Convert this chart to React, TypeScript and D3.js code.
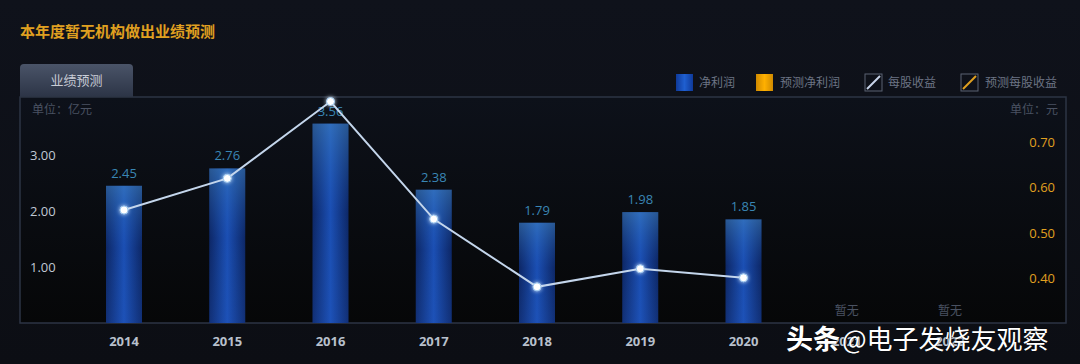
import React from "react";
import * as d3 from "d3";

const W = 1080;
const H = 364;

const years = ["2014", "2015", "2016", "2017", "2018", "2019", "2020", "2021", "2022"];
const profit = [2.45, 2.76, 3.56, 2.38, 1.79, 1.98, 1.85, null, null];
const eps = [0.55, 0.62, 0.79, 0.53, 0.38, 0.42, 0.4, null, null];
const leftTicks = [1, 2, 3];
const rightTicks = [0.4, 0.5, 0.6, 0.7];

const FONT = "'Noto Sans CJK SC', 'Noto Sans', sans-serif";
const NUM = "'Open Sans', sans-serif";
const box = { left: 20, right: 1066, top: 97, bottom: 323 };

const App = () => {
  const x = d3.scalePoint<string>().domain(years).range([124, 950]);
  const yL = d3.scaleLinear().domain([0, 226 / 56]).range([box.bottom, box.top]);
  const yR = d3.scaleLinear().domain([0.3, 0.8]).range([box.bottom, box.top]);

  const line = d3
    .line<number | null>()
    .defined((d) => d != null)
    .x((_, i) => x(years[i]) as number)
    .y((d) => yR(d as number));

  const barW = 36;

  return (
    <svg width={W} height={H} style={{ position: "absolute", left: 0, top: 0, fontFamily: FONT }}>
      <defs>
        <linearGradient id="bg" x1="0" y1="0" x2="0" y2="1">
          <stop offset="0" stopColor="#0f121b" />
          <stop offset="1" stopColor="#0c0e14" />
        </linearGradient>
        <linearGradient id="plotBg" x1="0" y1="0" x2="0" y2="1">
          <stop offset="0" stopColor="#0d111a" />
          <stop offset="1" stopColor="#060708" />
        </linearGradient>
        <linearGradient id="barH" x1="0" y1="0" x2="1" y2="0">
          <stop offset="0" stopColor="#0d2766" />
          <stop offset="0.5" stopColor="#1b4fb4" />
          <stop offset="1" stopColor="#0d2766" />
        </linearGradient>
        <linearGradient id="barV" x1="0" y1="0" x2="0" y2="1">
          <stop offset="0" stopColor="#4a92c8" stopOpacity="0.45" />
          <stop offset="0.45" stopColor="#2a6cbf" stopOpacity="0" />
          <stop offset="1" stopColor="#2a60d0" stopOpacity="0.15" />
        </linearGradient>
        <linearGradient id="tab" x1="0" y1="0" x2="0" y2="1">
          <stop offset="0" stopColor="#4a5468" />
          <stop offset="1" stopColor="#2c3446" />
        </linearGradient>
        <linearGradient id="legBlue" x1="0" y1="0" x2="1" y2="0">
          <stop offset="0" stopColor="#0f3a9a" />
          <stop offset="0.5" stopColor="#1f5fd0" />
          <stop offset="1" stopColor="#0f3a9a" />
        </linearGradient>
        <linearGradient id="legOrange" x1="0" y1="0" x2="1" y2="0">
          <stop offset="0" stopColor="#d08a00" />
          <stop offset="0.5" stopColor="#ffb000" />
          <stop offset="1" stopColor="#d08a00" />
        </linearGradient>
        <filter id="glow" x="-100%" y="-100%" width="300%" height="300%">
          <feGaussianBlur stdDeviation="2" result="b" />
          <feMerge>
            <feMergeNode in="b" />
            <feMergeNode in="SourceGraphic" />
          </feMerge>
        </filter>
      </defs>

      <rect width={W} height={H} fill="url(#bg)" />

      {/* title */}
      <text x={20} y={37} fill="#e0a020" fontSize={15} fontWeight="bold">
        本年度暂无机构做出业绩预测
      </text>

      {/* tab */}
      <path d="M20,97 V68 Q20,64 24,64 H129 Q133,64 133,68 V97 Z" fill="url(#tab)" />
      <text x={76.5} y={85} textAnchor="middle" fill="#c8ccd6" fontSize={13}>
        业绩预测
      </text>

      {/* plot area */}
      <rect
        x={box.left}
        y={box.top}
        width={box.right - box.left}
        height={box.bottom - box.top}
        fill="url(#plotBg)"
        stroke="#2c3444"
        strokeWidth={1.5}
      />

      {/* legend */}
      <g fontSize={12} fill="#6c7484">
        <rect x={676} y={74} width={17} height={17} fill="url(#legBlue)" />
        <text x={699} y={87}>净利润</text>
        <rect x={756} y={74} width={17} height={17} fill="url(#legOrange)" />
        <text x={780} y={87}>预测净利润</text>
        <rect x={865} y={74} width={17} height={17} fill="none" stroke="#5a6272" />
        <line x1={867} y1={89} x2={880} y2={76} stroke="#c8d4ea" strokeWidth={2} />
        <text x={888} y={87}>每股收益</text>
        <rect x={961} y={74} width={17} height={17} fill="none" stroke="#5a6272" />
        <line x1={963} y1={89} x2={976} y2={76} stroke="#e0a020" strokeWidth={2} />
        <text x={985} y={87}>预测每股收益</text>
      </g>

      {/* units */}
      <text x={32} y={114} fill="#4a5262" fontSize={12}>
        单位：亿元
      </text>
      <text x={1058} y={114} fill="#4a5262" fontSize={12} textAnchor="end">
        单位：元
      </text>

      {/* left ticks */}
      {leftTicks.map((t) => (
        <text key={t} x={30} y={yL(t) + 5} fill="#c0c8d4" fontSize={13} fontFamily={NUM}>
          {t.toFixed(2)}
        </text>
      ))}
      {/* right ticks */}
      {rightTicks.map((t) => (
        <text key={t} x={1055} y={yR(t) + 5} fill="#e0a020" fontSize={13} textAnchor="end" fontFamily={NUM}>
          {t.toFixed(2)}
        </text>
      ))}

      {/* bars */}
      {profit.map((v, i) => {
        const cx = x(years[i]) as number;
        if (v == null) {
          return (
            <text key={i} x={cx} y={315} textAnchor="middle" fill="#4a5262" fontSize={12}>
              暂无
            </text>
          );
        }
        const y0 = yL(v);
        return (
          <g key={i}>
            <rect x={cx - barW / 2} y={y0} width={barW} height={box.bottom - y0} fill="url(#barH)" />
            <rect x={cx - barW / 2} y={y0} width={barW} height={box.bottom - y0} fill="url(#barV)" />
            <text x={cx} y={y0 - 8} textAnchor="middle" fill="#3a86b4" fontSize={13} fontFamily={NUM}>
              {v.toFixed(2)}
            </text>
          </g>
        );
      })}

      {/* eps line */}
      <path d={line(eps) || ""} fill="none" stroke="#c4d6ec" strokeWidth={2} />
      {eps.map((v, i) =>
        v == null ? null : (
          <circle
            key={i}
            cx={x(years[i]) as number}
            cy={yR(v)}
            r={4}
            fill="#ffffff"
            stroke="#9cc8f0"
            strokeWidth={1}
            filter="url(#glow)"
          />
        )
      )}

      {/* x labels */}
      {years.map((y) => (
        <text
          key={y}
          x={x(y) as number}
          y={346}
          textAnchor="middle"
          fill="#b8c0cc"
          fontSize={13}
          fontWeight="bold"
          fontFamily={NUM}
        >
          {y}
        </text>
      ))}

      {/* watermark */}
      <text x={786} y={349} fill="#ffffff" fontSize={27} fontWeight="bold" stroke="#000" strokeWidth={0.5} paintOrder="stroke">
        头条
      </text>
      <text x={842} y={349} fill="#ffffff" fontSize={26} stroke="#000" strokeWidth={0.5} paintOrder="stroke">
        @电子发烧友观察
      </text>
    </svg>
  );
};

export default App;
